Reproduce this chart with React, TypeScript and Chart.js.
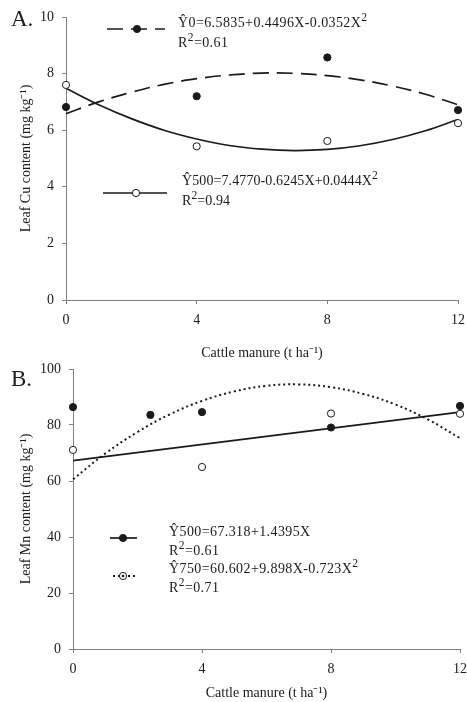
import React, { useEffect, useRef } from 'react';
import { Chart, registerables } from 'chart.js';
Chart.register(...registerables);

// ---------- data ----------
const xTickValues = [0, 4, 8, 12];
const cuTickValues = [0, 2, 4, 6, 8, 10];
const mnTickValues = [0, 20, 40, 60, 80, 100];

// Panel A: leaf Cu
const cuX = [0, 4, 8, 12];
const cuObs0 = [6.82, 7.2, 8.57, 6.71];
const cuObs500 = [7.6, 5.43, 5.62, 6.25];
const cuCurveX = [0, 1, 2, 3, 4, 5, 6, 7, 8, 9, 10, 11, 12];
const cuCurve0 = [6.58, 7.0, 7.34, 7.62, 7.82, 7.95, 8.02, 8.01, 7.93, 7.78, 7.56, 7.27, 6.9];
const cuCurve500 = [7.48, 6.9, 6.41, 6.0, 5.69, 5.46, 5.33, 5.28, 5.32, 5.45, 5.67, 5.98, 6.38];

// Panel B: leaf Mn
const mnX500 = [0, 2.4, 4, 8, 12];
const mnObs500 = [86.4, 83.6, 84.6, 79.1, 86.8];
const mnX750 = [0, 4, 8, 12];
const mnObs750 = [71.1, 65.0, 84.1, 84.0];
const mnLineX = [0, 12];
const mnLine500 = [67.3, 84.6];
const mnCurveX = [0, 1, 2, 3, 4, 5, 6, 7, 8, 9, 10, 11, 12];
const mnCurve750 = [60.6, 69.8, 77.5, 83.8, 88.6, 92.0, 94.0, 94.5, 93.5, 91.1, 87.3, 82.0, 75.3];

const FONT = "'Liberation Serif', 'Times New Roman', serif";
const AXIS = '#808080';
const INK = '#1a1a1a';

const pts = (xs: number[], ys: number[]) => xs.map((x, i) => ({ x, y: ys[i] }));

type Sample = { x1: number; x2: number; y: number; mx: number; dash: number[]; marker: 'filled' | 'open' | 'dot' };

const samplePlugin = {
  id: 'legendSamples',
  afterDraw(chart: any) {
    const items: Sample[] = chart.options.plugins.legendSamples?.items || [];
    const ctx = chart.ctx;
    ctx.save();
    items.forEach((it) => {
      ctx.beginPath();
      ctx.setLineDash(it.dash);
      ctx.strokeStyle = INK;
      ctx.lineWidth = it.dash.length && it.dash[0] <= 2 ? 2 : 1.7;
      ctx.moveTo(it.x1, it.y);
      ctx.lineTo(it.x2, it.y);
      ctx.stroke();
      ctx.setLineDash([]);
      ctx.beginPath();
      ctx.arc(it.mx, it.y, 3.6, 0, Math.PI * 2);
      ctx.fillStyle = it.marker === 'filled' ? INK : '#fff';
      ctx.fill();
      ctx.lineWidth = 1;
      ctx.strokeStyle = INK;
      ctx.stroke();
      if (it.marker === 'dot') {
        ctx.beginPath();
        ctx.arc(it.mx, it.y, 1.3, 0, Math.PI * 2);
        ctx.fillStyle = INK;
        ctx.fill();
      }
    });
    ctx.restore();
  },
};

function buildScales(opt: {
  xTicks: number[]; yTicks: number[]; yMax: number; yTitle: string; xHeight: number; yWidth: number;
}) {
  return {
    x: {
      type: 'linear',
      min: 0,
      max: 12,
      afterBuildTicks: (s: any) => { s.ticks = opt.xTicks.map((v) => ({ value: v })); },
      afterFit: (s: any) => { s.height = opt.xHeight; s.paddingLeft = 0; s.paddingRight = 0; },
      ticks: { color: INK, font: { family: FONT, size: 14 }, padding: 8, maxRotation: 0 },
      grid: { drawOnChartArea: false, tickLength: 4, color: AXIS },
      border: { color: AXIS, width: 1 },
      title: { display: true, text: 'Cattle manure (t ha⁻¹)', color: INK, font: { family: FONT, size: 14 }, padding: { top: 0, bottom: 0 } },
    },
    y: {
      type: 'linear',
      min: 0,
      max: opt.yMax,
      afterBuildTicks: (s: any) => { s.ticks = opt.yTicks.map((v) => ({ value: v })); },
      afterFit: (s: any) => { s.width = opt.yWidth; s.paddingTop = 0; s.paddingBottom = 0; },
      ticks: { color: INK, font: { family: FONT, size: 14 }, padding: 8 },
      grid: { drawOnChartArea: false, tickLength: 4, color: AXIS },
      border: { color: AXIS, width: 1 },
      title: { display: true, text: opt.yTitle, color: INK, font: { family: FONT, size: 14 }, padding: { top: 18, bottom: 0 } },
    },
  };
}

function pointSet(data: any[], filled: boolean) {
  return {
    data,
    showLine: false,
    pointRadius: 3.6,
    pointHoverRadius: 3.6,
    pointBackgroundColor: filled ? INK : '#ffffff',
    pointBorderColor: INK,
    pointBorderWidth: 1,
    clip: false,
    order: 0,
  };
}

function lineSet(data: any[], dash: number[], width: number) {
  return {
    data,
    showLine: true,
    borderColor: INK,
    borderWidth: width,
    borderDash: dash,
    pointRadius: 0,
    tension: 0.4,
    fill: false,
    clip: false,
    order: 1,
  };
}

function useChart(ref: React.RefObject<HTMLCanvasElement>, config: () => any) {
  useEffect(() => {
    if (!ref.current) return;
    const chart = new Chart(ref.current, config());
    return () => chart.destroy();
  }, []);
}

const W = 467;
const H_TOP = 362;
const B_TOP = 350;
const H_BOT = 352;

function Sup({ children }: { children: React.ReactNode }) {
  return <span style={{ fontSize: 11.5, position: 'relative', top: -6, lineHeight: 0 }}>{children}</span>;
}

const textStyle = (left: number, top: number, spacing = 0): React.CSSProperties => ({
  position: 'absolute',
  left,
  top,
  fontFamily: FONT,
  fontSize: 14,
  lineHeight: '16px',
  color: INK,
  whiteSpace: 'nowrap',
  letterSpacing: spacing,
});

export default function App() {
  const topRef = useRef<HTMLCanvasElement>(null);
  const botRef = useRef<HTMLCanvasElement>(null);

  useChart(topRef, () => ({
    type: 'scatter',
    data: {
      datasets: [
        pointSet(pts(cuX, cuObs0), true),
        pointSet(pts(cuX, cuObs500), false),
        lineSet(pts(cuCurveX, cuCurve0), [16, 8], 1.7),
        lineSet(pts(cuCurveX, cuCurve500), [], 1.7),
      ],
    },
    options: {
      animation: false,
      responsive: false,
      devicePixelRatio: 1,
      layout: { padding: { left: 0, right: 9, top: 17, bottom: 0 } },
      plugins: {
        legend: { display: false },
        tooltip: { enabled: false },
        legendSamples: {
          items: [
            { x1: 107, x2: 165, y: 29, mx: 137, dash: [16, 8], marker: 'filled' },
            { x1: 103, x2: 167, y: 193, mx: 136, dash: [], marker: 'open' },
          ],
        },
      },
      scales: buildScales({ xTicks: xTickValues, yTicks: cuTickValues, yMax: 10, yTitle: 'Leaf Cu content (mg kg⁻¹)', xHeight: H_TOP - 300, yWidth: 66 }),
    },
    plugins: [samplePlugin],
  }));

  useChart(botRef, () => ({
    type: 'scatter',
    data: {
      datasets: [
        pointSet(pts(mnX500, mnObs500), true),
        pointSet(pts(mnX750, mnObs750), false),
        lineSet(pts(mnLineX, mnLine500), [], 1.7),
        lineSet(pts(mnCurveX, mnCurve750), [2, 3], 2),
      ],
    },
    options: {
      animation: false,
      responsive: false,
      devicePixelRatio: 1,
      layout: { padding: { left: 0, right: 7, top: 369 - B_TOP, bottom: 0 } },
      plugins: {
        legend: { display: false },
        tooltip: { enabled: false },
        legendSamples: {
          items: [
            { x1: 110, x2: 137, y: 538 - B_TOP, mx: 123, dash: [], marker: 'filled' },
            { x1: 113, x2: 135, y: 576 - B_TOP, mx: 123, dash: [2, 3], marker: 'dot' },
          ],
        },
      },
      scales: buildScales({ xTicks: xTickValues, yTicks: mnTickValues, yMax: 100, yTitle: 'Leaf Mn content (mg kg⁻¹)', xHeight: H_BOT - (649 - B_TOP), yWidth: 73 }),
    },
    plugins: [samplePlugin],
  }));

  return (
    <div style={{ position: 'absolute', left: 0, top: 0, width: W, height: 702, background: '#fff', overflow: 'hidden' }}>
      <canvas ref={topRef} width={W} height={H_TOP} style={{ position: 'absolute', left: 0, top: 0, width: W, height: H_TOP }} />
      <canvas ref={botRef} width={W} height={H_BOT} style={{ position: 'absolute', left: 0, top: B_TOP, width: W, height: H_BOT }} />

      <div style={{ position: 'absolute', left: 11, top: 6, fontFamily: FONT, fontSize: 23, lineHeight: '26px', color: INK }}>A.</div>
      <div style={{ position: 'absolute', left: 11, top: 366, fontFamily: FONT, fontSize: 23, lineHeight: '26px', color: INK }}>B.</div>

      <div style={textStyle(178, 15, 0.4)}>Ŷ0=6.5835+0.4496X-0.0352X<Sup>2</Sup></div>
      <div style={textStyle(178, 35, 0.4)}>R<Sup>2</Sup>=0.61</div>
      <div style={textStyle(182, 173, 0.1)}>Ŷ500=7.4770-0.6245X+0.0444X<Sup>2</Sup></div>
      <div style={textStyle(182, 193, 0.1)}>R<Sup>2</Sup>=0.94</div>

      <div style={textStyle(169, 524, 0.4)}>Ŷ500=67.318+1.4395X</div>
      <div style={textStyle(169, 543, 0.4)}>R<Sup>2</Sup>=0.61</div>
      <div style={textStyle(169, 561, 0.4)}>Ŷ750=60.602+9.898X-0.723X<Sup>2</Sup></div>
      <div style={textStyle(169, 580, 0.4)}>R<Sup>2</Sup>=0.71</div>
    </div>
  );
}
